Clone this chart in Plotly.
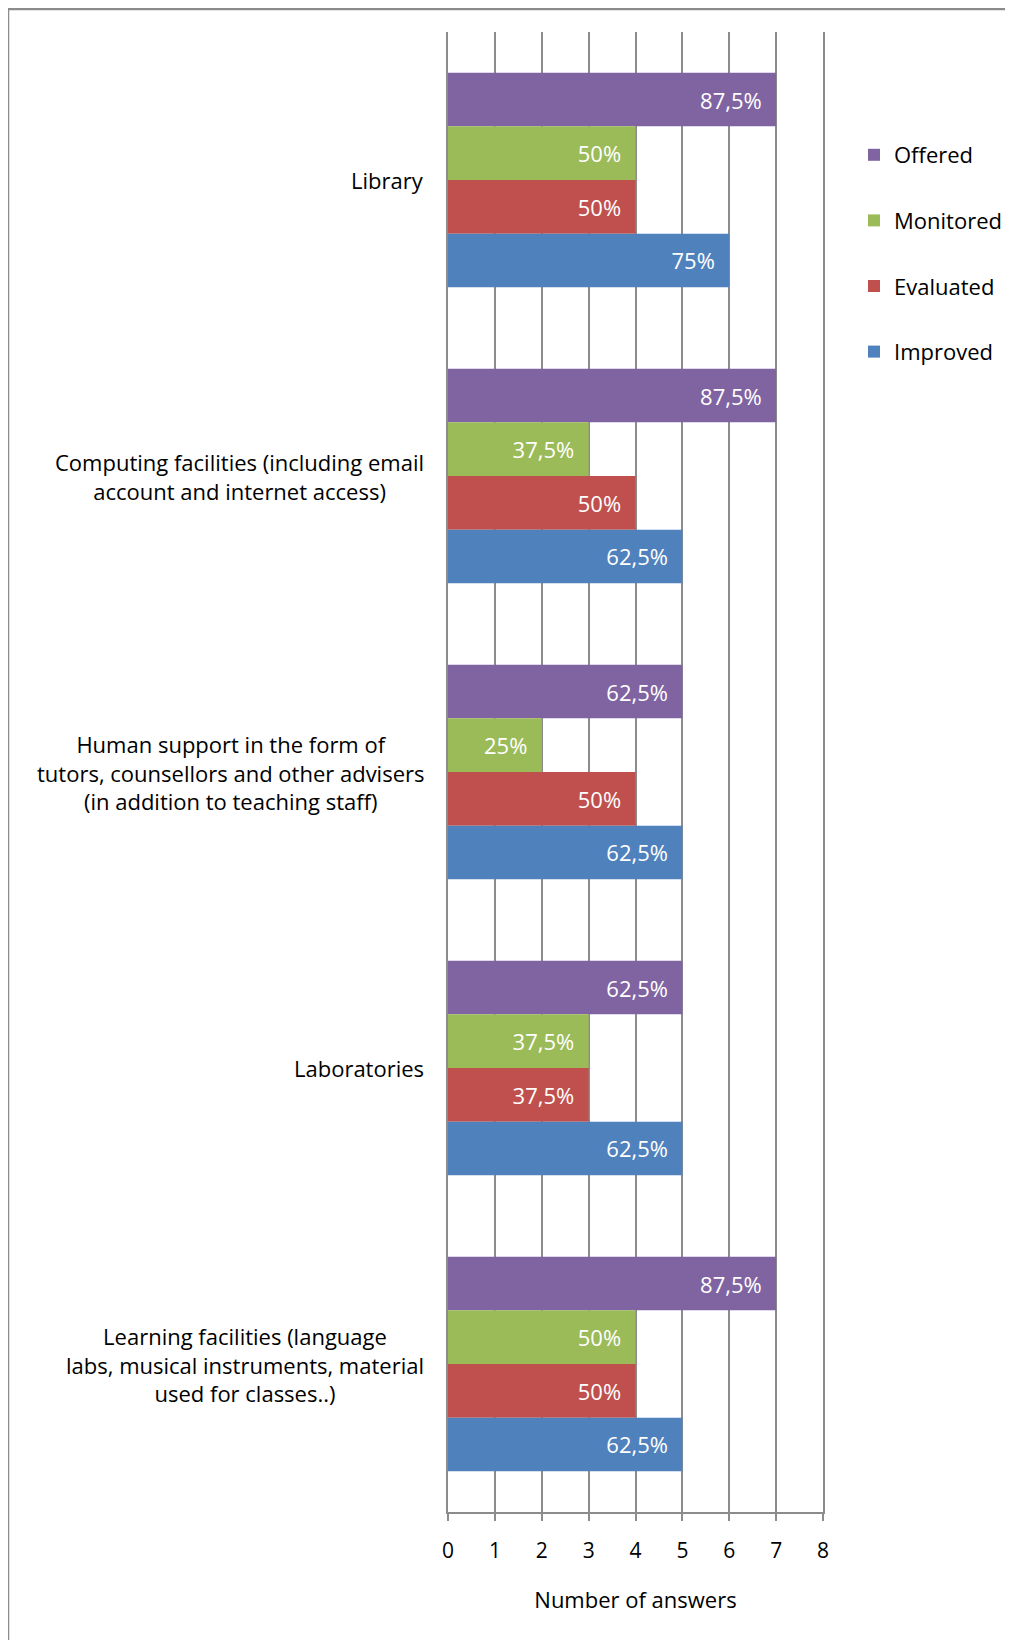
import plotly.graph_objects as go

categories = [
    "Library",
    "Computing facilities (including email<br>account and internet access)",
    "Human support in the form of<br>tutors, counsellors and other advisers<br>(in addition to teaching staff)",
    "Laboratories",
    "Learning facilities (language<br>labs, musical instruments, material<br>used for classes..)",
]
series_names = ["Offered", "Monitored", "Evaluated", "Improved"]
offered = [7, 7, 5, 5, 7]
monitored = [4, 3, 2, 3, 4]
evaluated = [4, 4, 4, 3, 4]
improved = [6, 5, 5, 5, 5]
total_respondents = 8
x_ticks = [0, 1, 2, 3, 4, 5, 6, 7, 8]

colors = ["#8064A2", "#9BBB59", "#C0504D", "#4F81BD"]
values = [offered, monitored, evaluated, improved]

FONT = "'Open Sans', 'Noto Sans', sans-serif"
GRID = "#8c8c8c"
FS = 22

# plot area geometry (figure pixels)
L, R, T, B = 440, 198, 24, 136
W, H = 1013, 1640
PW, PH = W - L - R, H - T - B


def pct_label(v):
    s = f"{v / total_respondents * 100:g}".replace(".", ",")
    return s + "%" + "\u00a0\u00a0"


fig = go.Figure()
for name, vals, col in zip(series_names, values, colors):
    fig.add_trace(go.Bar(
        y=list(range(len(categories))),
        x=vals,
        name=name,
        orientation="h",
        marker=dict(color=col, line=dict(width=0)),
        text=[pct_label(v) for v in vals],
        textposition="inside",
        insidetextanchor="end",
        textfont=dict(family=FONT, size=FS, color="white"),
        legendgroup=name,
        hoverinfo="skip",
    ))

annotations = []
for i, cat in enumerate(categories):
    annotations.append(dict(
        x=0, xref="paper", y=i, yref="y",
        text=cat, showarrow=False,
        xanchor="right", yanchor="middle", align="center",
        xshift=-22,
        font=dict(family=FONT, size=FS, color="#000000"),
    ))

fig.update_layout(
    width=W, height=H,
    margin=dict(l=L, r=R, t=T, b=B),
    paper_bgcolor="white", plot_bgcolor="white",
    barmode="group", bargap=0.275, bargroupgap=0,
    font=dict(family=FONT, size=FS, color="#000000"),
    showlegend=True,
    legend=dict(
        x=(846 - L) / PW, xanchor="left", y=(PH - (126 - T)) / PH, yanchor="top",
        traceorder="grouped", tracegroupgap=34,
        font=dict(family=FONT, size=FS, color="#000000"),
        bgcolor="rgba(0,0,0,0)",
    ),
    xaxis=dict(
        range=[0, 8], tickvals=x_ticks, ticktext=[str(t) for t in x_ticks],
        showgrid=True, gridcolor=GRID, gridwidth=2,
        zeroline=False,
        showline=True, linecolor=GRID, linewidth=2,
        ticks="outside", ticklen=7, tickcolor=GRID, tickwidth=2,
        tickfont=dict(family=FONT, size=21, color="#000000"),
        ticklabelstandoff=12,
        title=dict(text="Number of answers", standoff=29,
                   font=dict(family=FONT, size=FS, color="#000000")),
        fixedrange=True,
    ),
    yaxis=dict(
        range=[len(categories) - 0.5, -0.5],
        showticklabels=False, showgrid=False, zeroline=False,
        showline=True, mirror=True, linecolor=GRID, linewidth=2,
        ticks="", fixedrange=True,
    ),
    annotations=annotations,
    shapes=[dict(
        type="rect", xref="paper", yref="paper",
        x0=(0 - L) / PW, x1=(1100 - L) / PW,
        y0=(PH - 1800) / PH, y1=(PH + T - 1) / PH,
        line=dict(color="#8c8c8c", width=2.5), fillcolor="rgba(0,0,0,0)",
        layer="below",
    )],
)

fig.write_html("out.html")
